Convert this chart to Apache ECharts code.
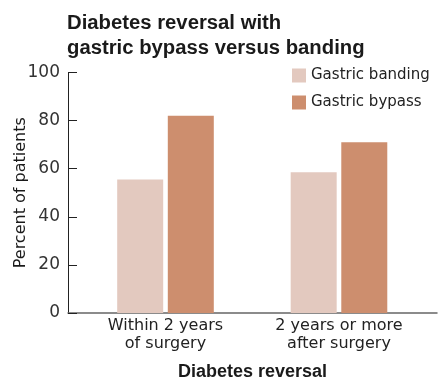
<!DOCTYPE html>
<html><head><meta charset="utf-8">
<script src="https://cdn.jsdelivr.net/npm/echarts@6/dist/echarts.min.js"></script>
<style>html,body{margin:0;padding:0;background:#fff}#c{width:445px;height:386px}</style>
</head><body><div id="c"></div>
<script>
var categories = ['Within 2 years\nof surgery', '2 years or more\nafter surgery'];
var seriesNames = ['Gastric banding', 'Gastric bypass'];
var banding = [55.5, 58.5];
var bypass = [82, 71];
var yTicks = [0, 20, 40, 60, 80, 100];
var catPos = [1, 2];

var FONT = '"DejaVu Sans", sans-serif';
var BOLD = '"Liberation Sans", Arial, sans-serif';
var chart = echarts.init(document.getElementById('c'));
function toPts(vals){ return vals.map(function(v,i){ return [catPos[i], v]; }); }
chart.setOption({
  animation: false,
  textStyle: { fontFamily: FONT },
  title: {
    text: 'Diabetes reversal with\ngastric bypass versus banding',
    left: 62, top: 6,
    textStyle: { fontFamily: BOLD, fontWeight: 'bold', fontSize: 20.3, lineHeight: 25, color: '#1a1a1a' }
  },
  legend: {
    orient: 'vertical', left: 287, top: 63, itemWidth: 14, itemHeight: 14, itemGap: 12,
    icon: 'rect',
    textStyle: { fontFamily: FONT, fontSize: 15, lineHeight: 14, color: '#222' },
    data: seriesNames
  },
  grid: { left: 68, right: 8, top: 72.5, bottom: 72.5, containLabel: false },
  xAxis: {
    type: 'value', min: 0.438, max: 2.565,
    name: 'Diabetes reversal', nameLocation: 'middle', nameGap: 50,
    nameTextStyle: { fontFamily: BOLD, fontWeight: 'bold', fontSize: 18, color: '#1a1a1a', verticalAlign: 'top' },
    axisLine: { show: true, onZero: false, lineStyle: { color: '#666', width: 1.5 } },
    axisTick: { show: false },
    splitLine: { show: false },
    axisLabel: {
      customValues: catPos, margin: 4,
      fontFamily: FONT, fontSize: 16, lineHeight: 18, color: '#222',
      formatter: function(v){ var i = catPos.indexOf(Math.round(v)); return i >= 0 ? categories[i] : ''; }
    }
  },
  yAxis: {
    type: 'value', min: 0, max: 100, interval: 20,
    name: 'Percent of patients', nameLocation: 'middle', nameGap: 39.5, nameMoveOverlap: false,
    nameTextStyle: { fontFamily: FONT, fontSize: 16, color: '#1a1a1a' },
    axisLine: { show: true, lineStyle: { color: '#222', width: 1 } },
    axisTick: { show: true, inside: true, length: 9, lineStyle: { color: '#222' } },
    splitLine: { show: false },
    axisLabel: { fontFamily: FONT, fontSize: 17, color: '#333', margin: 8,
      formatter: function(v){ return yTicks.indexOf(v) >= 0 ? String(v) : ''; } }
  },
  series: [
    { name: seriesNames[0], type: 'bar', data: toPts(banding), barWidth: 46, barGap: '10%',
      itemStyle: { color: '#e3c9bf' } },
    { name: seriesNames[1], type: 'bar', data: toPts(bypass), barWidth: 46, barGap: '10%',
      itemStyle: { color: '#cd8e6e' } }
  ]
});
</script></body></html>
